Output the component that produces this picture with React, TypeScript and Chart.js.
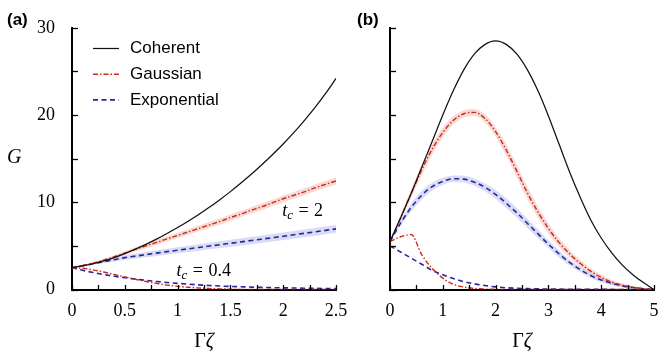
import { useEffect, useRef } from 'react';
import { Chart, registerables } from 'chart.js';

Chart.register(...registerables);

// ---------- Panel (a) data ----------
const xA = [0, 0.1, 0.2, 0.3, 0.4, 0.5, 0.6, 0.7, 0.8, 0.9, 1.0, 1.1, 1.2, 1.3, 1.4, 1.5, 1.6, 1.7, 1.8, 1.9, 2.0, 2.1, 2.2, 2.3, 2.4, 2.5];
const coherentA = [2.5, 2.7, 2.95, 3.27, 3.66, 4.12, 4.62, 5.17, 5.77, 6.42, 7.1, 7.83, 8.6, 9.42, 10.3, 11.22, 12.2, 13.23, 14.32, 15.47, 16.68, 17.98, 19.37, 20.84, 22.45, 24.2];
const gaussA2 = [2.5, 2.75, 3.03, 3.36, 3.75, 4.17, 4.6, 5.0, 5.4, 5.8, 6.2, 6.6, 7.0, 7.4, 7.8, 8.25, 8.65, 9.1, 9.5, 9.95, 10.4, 10.8, 11.2, 11.65, 12.05, 12.45];
const expA2 = [2.5, 2.72, 2.95, 3.19, 3.42, 3.65, 3.83, 4.0, 4.17, 4.34, 4.5, 4.66, 4.82, 4.98, 5.14, 5.3, 5.46, 5.62, 5.78, 5.94, 6.1, 6.27, 6.44, 6.61, 6.78, 6.95];
const gaussA04 = [2.5, 2.43, 2.25, 2.0, 1.72, 1.45, 1.17, 0.92, 0.7, 0.5, 0.36, 0.25, 0.17, 0.11, 0.07, 0.04, 0.02, 0.01, 0.01, 0, 0, 0, 0, 0, 0, 0];
const expA04 = [2.5, 2.2, 1.94, 1.72, 1.52, 1.35, 1.19, 1.05, 0.92, 0.8, 0.7, 0.61, 0.53, 0.46, 0.4, 0.35, 0.31, 0.27, 0.24, 0.21, 0.19, 0.17, 0.15, 0.13, 0.12, 0.11];
const gaussA2Spread = [0, 0.05, 0.1, 0.14, 0.18, 0.22, 0.25, 0.27, 0.29, 0.3, 0.31, 0.32, 0.33, 0.34, 0.35, 0.36, 0.37, 0.37, 0.38, 0.38, 0.39, 0.39, 0.4, 0.4, 0.4, 0.4];
const expA2Spread = [0, 0.06, 0.12, 0.17, 0.22, 0.26, 0.29, 0.31, 0.33, 0.34, 0.35, 0.36, 0.37, 0.38, 0.39, 0.4, 0.41, 0.42, 0.42, 0.43, 0.43, 0.44, 0.44, 0.45, 0.45, 0.45];

// ---------- Panel (b) data ----------
const xB = [0, 0.2, 0.4, 0.6, 0.8, 1.0, 1.2, 1.4, 1.6, 1.8, 2.0, 2.2, 2.4, 2.6, 2.8, 3.0, 3.2, 3.4, 3.6, 3.8, 4.0, 4.2, 4.4, 4.6, 4.8, 5.0];
const coherentB = [5.5, 8.2, 11.0, 14.0, 17.0, 20.0, 22.8, 25.2, 27.0, 28.1, 28.5, 28.1, 27.0, 25.2, 22.8, 19.9, 16.7, 13.5, 10.6, 8.0, 5.9, 4.2, 2.8, 1.7, 0.8, 0.0];
const gaussB2 = [5.5, 8.2, 11.0, 13.7, 16.1, 18.0, 19.4, 20.15, 20.3, 19.6, 18.1, 16.0, 13.6, 11.1, 8.9, 7.0, 5.4, 4.1, 3.0, 2.1, 1.4, 0.85, 0.5, 0.25, 0.1, 0.0];
const expB2 = [5.5, 7.6, 9.4, 10.8, 11.8, 12.4, 12.7, 12.65, 12.3, 11.7, 10.9, 9.9, 8.8, 7.6, 6.4, 5.2, 4.1, 3.1, 2.3, 1.6, 1.1, 0.7, 0.42, 0.22, 0.08, 0.0];
const gaussB04 = [5.5, 6.05, 6.3, 4.0, 2.4, 1.3, 0.6, 0.28, 0.12, 0.05, 0.02, 0, 0, 0, 0, 0, 0, 0, 0, 0, 0, 0, 0, 0, 0, 0];
const expB04 = [5.0, 4.3, 3.6, 2.9, 2.2, 1.7, 1.25, 0.9, 0.65, 0.45, 0.3, 0.2, 0.14, 0.1, 0.07, 0.05, 0.04, 0.03, 0.02, 0.02, 0.01, 0.01, 0, 0, 0, 0];
const gaussB2Spread = [0, 0.3, 0.5, 0.6, 0.6, 0.55, 0.45, 0.4, 0.4, 0.45, 0.55, 0.65, 0.7, 0.7, 0.65, 0.6, 0.5, 0.45, 0.4, 0.35, 0.3, 0.25, 0.2, 0.15, 0.1, 0.05];
const expB2Spread = [0, 0.3, 0.45, 0.5, 0.45, 0.4, 0.38, 0.38, 0.4, 0.45, 0.5, 0.55, 0.55, 0.55, 0.5, 0.45, 0.4, 0.35, 0.3, 0.28, 0.25, 0.2, 0.15, 0.1, 0.08, 0.05];

// ---------- Axis / labels ----------
const yTicksMajor = [0, 10, 20, 30];
const legendLabels = ['Coherent', 'Gaussian', 'Exponential'];
const annotA = [
  { sub: 'c', rest: '2', at: [1.99, 8.45] },
  { sub: 'c', rest: '0.4', at: [0.99, 1.55] },
];

const RED = 'rgb(204,42,24)';
const BLUE = 'rgb(38,38,158)';
const BLACK = '#111111';
const RED_BAND = 'rgba(236,110,90,0.26)';
const BLUE_BAND = 'rgba(110,120,215,0.26)';
const SERIF = '"Liberation Serif", "DejaVu Serif", serif';
const SANS = '"Liberation Sans", Arial, sans-serif';
const DASH_G = [5, 2, 1.5, 2];
const DASH_E = [5, 3.5];

function pts(xs: number[], ys: number[]) {
  return xs.map((x, i) => ({ x, y: ys[i] }));
}
function offs(xs: number[], ys: number[], s: number[], sign: number) {
  return xs.map((x, i) => ({ x, y: ys[i] + sign * s[i] }));
}
function lineDs(label: string, xs: number[], ys: number[], color: string, dash: number[], width: number, legend: boolean) {
  return {
    label, data: pts(xs, ys), borderColor: color, borderDash: dash, borderWidth: width,
    pointRadius: 0, fill: false, cubicInterpolationMode: 'monotone', order: 1, showInLegend: legend,
  };
}
function bandDs(xs: number[], ys: number[], s: number[], color: string) {
  return [
    { label: 'lo', data: offs(xs, ys, s, -1), borderColor: 'rgba(0,0,0,0)', borderWidth: 1, pointRadius: 0, fill: false, cubicInterpolationMode: 'monotone', order: 5 },
    { label: 'hi', data: offs(xs, ys, s, 1), borderColor: 'rgba(0,0,0,0)', borderWidth: 1, pointRadius: 0, fill: '-1', backgroundColor: color, cubicInterpolationMode: 'monotone', order: 5 },
  ];
}

const inwardTicks = {
  id: 'inwardTicks',
  afterDatasetsDraw(chart: any) {
    const { ctx, chartArea, scales } = chart;
    ctx.save();
    ctx.strokeStyle = '#000';
    ctx.lineWidth = 1.3;
    ctx.setLineDash([]);
    scales.y.ticks.forEach((t: any) => {
      const y = Math.round(scales.y.getPixelForValue(t.value)) + 0.5;
      ctx.beginPath();
      ctx.moveTo(chartArea.left, y);
      ctx.lineTo(chartArea.left + 6, y);
      ctx.stroke();
    });
    scales.x.ticks.forEach((t: any) => {
      const x = Math.round(scales.x.getPixelForValue(t.value)) + 0.5;
      ctx.beginPath();
      ctx.moveTo(x, chartArea.bottom);
      ctx.lineTo(x, chartArea.bottom - 4.5);
      ctx.stroke();
    });
    ctx.restore();
  },
};

function drawXTitle(ctx: any, cx: number, baseline: number) {
  ctx.font = `20px ${SERIF}`;
  const w1 = ctx.measureText('Γ').width;
  ctx.font = `italic 20px ${SERIF}`;
  const w2 = ctx.measureText('ζ').width;
  const x0 = cx - (w1 + w2) / 2;
  ctx.textAlign = 'left';
  ctx.textBaseline = 'alphabetic';
  ctx.font = `20px ${SERIF}`;
  ctx.fillText('Γ', x0, baseline);
  ctx.font = `italic 20px ${SERIF}`;
  ctx.fillText('ζ', x0 + w1, baseline);
}

function drawTc(ctx: any, x: number, y: number, sub: string, rest: string) {
  ctx.textAlign = 'left';
  ctx.textBaseline = 'alphabetic';
  ctx.fillStyle = '#000';
  let cx = x;
  ctx.font = `italic 18px ${SERIF}`;
  ctx.fillText('t', cx, y);
  cx += ctx.measureText('t').width;
  ctx.font = `italic 13px ${SERIF}`;
  ctx.fillText(sub, cx, y + 3.5);
  cx += ctx.measureText(sub).width + 5.5;
  ctx.font = `18px ${SERIF}`;
  ctx.fillText('=', cx, y);
  cx += ctx.measureText('=').width + 5.5;
  ctx.fillText(rest, cx, y);
}

const textA = {
  id: 'textA',
  afterDraw(chart: any) {
    const { ctx, chartArea, scales } = chart;
    ctx.save();
    ctx.fillStyle = '#000';
    ctx.font = `bold 17px ${SANS}`;
    ctx.textAlign = 'left';
    ctx.textBaseline = 'alphabetic';
    ctx.fillText('(a)', 7, 25);
    // legend
    const items = chart.data.datasets.filter((d: any) => d.showInLegend);
    items.forEach((d: any, i: number) => {
      const y = 48.5 + i * 25.7;
      ctx.strokeStyle = d.borderColor;
      ctx.lineWidth = d.borderWidth;
      ctx.setLineDash(d.borderDash || []);
      ctx.beginPath();
      ctx.moveTo(93, y);
      ctx.lineTo(119, y);
      ctx.stroke();
      ctx.setLineDash([]);
      ctx.fillStyle = '#000';
      ctx.font = `17px ${SANS}`;
      ctx.textBaseline = 'middle';
      ctx.fillText(d.label, 130, y);
    });
    // G
    ctx.textBaseline = 'alphabetic';
    ctx.font = `italic 20px ${SERIF}`;
    ctx.fillText('G', 7, 163);
    drawXTitle(ctx, (chartArea.left + chartArea.right) / 2, 346.5);
    annotA.forEach((a) => {
      drawTc(ctx, scales.x.getPixelForValue(a.at[0]), scales.y.getPixelForValue(a.at[1]), a.sub, a.rest);
    });
    ctx.restore();
  },
};

const textB = {
  id: 'textB',
  afterDraw(chart: any) {
    const { ctx, chartArea } = chart;
    ctx.save();
    ctx.fillStyle = '#000';
    ctx.font = `bold 17px ${SANS}`;
    ctx.textAlign = 'left';
    ctx.textBaseline = 'alphabetic';
    ctx.fillText('(b)', 7, 25);
    drawXTitle(ctx, (chartArea.left + chartArea.right) / 2, 346.5);
    ctx.restore();
  },
};

function fmt(v: number) {
  return String(Math.round(v * 100) / 100);
}

function makeOptions(xMax: number, xStep: number, xLabelEvery: number, yWidth: number, rightPad: number, showY: boolean) {
  const tickFont = { family: SERIF, size: 18 };
  return {
    responsive: false,
    animation: false,
    events: [],
    devicePixelRatio: 1,
    layout: { padding: { left: 0, right: rightPad, top: 24.5, bottom: 0 } },
    plugins: { legend: { display: false }, tooltip: { enabled: false } },
    scales: {
      x: {
        type: 'linear', min: 0, max: xMax,
        ticks: {
          stepSize: xStep, autoSkip: false, maxRotation: 0, padding: 11, color: '#000', font: tickFont,
          callback: (v: number) => (Math.abs(v / xLabelEvery - Math.round(v / xLabelEvery)) < 1e-6 ? fmt(v) : ''),
        },
        grid: { display: false, drawTicks: false },
        border: { display: true, color: '#000', width: 2 },
        afterFit: (s: any) => { s.height = 61.5; },
      },
      y: {
        min: 0, max: 30,
        ticks: {
          stepSize: 5, autoSkip: false, padding: 17, color: '#000', font: tickFont,
          callback: (v: number) => (showY && yTicksMajor.includes(v) ? String(v) : ''),
        },
        grid: { display: false, drawTicks: false },
        border: { display: true, color: '#000', width: 2 },
        afterFit: (s: any) => { s.width = yWidth; },
      },
    },
  };
}

export default function App() {
  const refA = useRef<HTMLCanvasElement>(null);
  const refB = useRef<HTMLCanvasElement>(null);

  useEffect(() => {
    const dsA: any[] = [
      lineDs(legendLabels[0], xA, coherentA, BLACK, [], 1.25, true),
      lineDs(legendLabels[1], xA, gaussA2, RED, DASH_G, 1.4, true),
      lineDs(legendLabels[2], xA, expA2, BLUE, DASH_E, 1.6, true),
      lineDs('g04', xA, gaussA04, RED, DASH_G, 1.4, false),
      lineDs('e04', xA, expA04, BLUE, DASH_E, 1.6, false),
      ...bandDs(xA, gaussA2, gaussA2Spread, RED_BAND),
      ...bandDs(xA, expA2, expA2Spread, BLUE_BAND),
    ];
    const dsB: any[] = [
      lineDs('Coherent', xB, coherentB, BLACK, [], 1.25, false),
      lineDs('Gaussian', xB, gaussB2, RED, DASH_G, 1.4, false),
      lineDs('Exponential', xB, expB2, BLUE, DASH_E, 1.6, false),
      lineDs('g04', xB, gaussB04, RED, DASH_G, 1.4, false),
      lineDs('e04', xB, expB04, BLUE, DASH_E, 1.6, false),
      ...bandDs(xB, gaussB2, gaussB2Spread, RED_BAND),
      ...bandDs(xB, expB2, expB2Spread, BLUE_BAND),
    ];
    const chartA = new Chart(refA.current as any, {
      type: 'line',
      data: { datasets: dsA },
      options: makeOptions(2.5, 0.25, 0.5, 72, 23, true) as any,
      plugins: [inwardTicks, textA],
    });
    const chartB = new Chart(refB.current as any, {
      type: 'line',
      data: { datasets: dsB },
      options: makeOptions(5, 0.5, 1, 40, 16, false) as any,
      plugins: [inwardTicks, textB],
    });
    return () => {
      chartA.destroy();
      chartB.destroy();
    };
  }, []);

  return (
    <div style={{ position: 'absolute', left: 0, top: 0, width: 659, height: 351, background: '#fff', overflow: 'hidden' }}>
      <canvas ref={refA} width={359} height={351} style={{ position: 'absolute', left: 0, top: 0, width: 359, height: 351 }} />
      <canvas ref={refB} width={320} height={351} style={{ position: 'absolute', left: 350, top: 0, width: 320, height: 351 }} />
    </div>
  );
}
